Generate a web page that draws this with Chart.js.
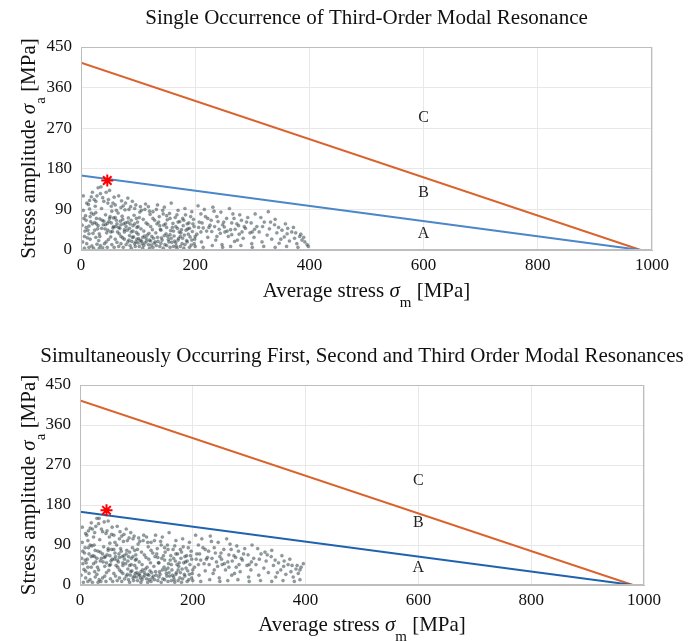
<!DOCTYPE html>
<html>
<head>
<meta charset="utf-8">
<script src="https://cdn.jsdelivr.net/npm/chart.js@4.4.1/dist/chart.umd.min.js"></script>
<style>
  html, body { margin: 0; padding: 0; background: #fff; }
  .box { position: absolute; left: 0; width: 697px; }
  #top { top: 0; height: 310px; }
  #bottom { top: 320px; height: 321px; }
</style>
</head>
<body>
<div class="box" id="top"><canvas id="chartTop"></canvas></div>
<div class="box" id="bottom"><canvas id="chartBottom"></canvas></div>
<script>
// Axis ticks
const xTicks = [0, 200, 400, 600, 800, 1000];
const yTicks = [0, 90, 180, 270, 360, 450];

// Limit lines (average stress, stress amplitude)
const lowerLineX = [0, 980];
const lowerLineY = [165, 0];
const upperLineX = [0, 980];
const upperLineY = [415, 0];

// Red star points
const starTop = [46, 154];
const starBottom = [47, 168];

// Region labels [x, y, text]
const regionTop = [[600, 36, "A"], [600, 127, "B"], [600, 293, "C"]];
const regionBottom = [[600, 38, "A"], [600, 140, "B"], [600, 234, "C"]];

// Scatter cloud, single occurrence
const cloudTop = [
  [3,18],[7,42],[9,66],[4,88],[11,27],[14,53],[16,74],[13,101],[19,9],[21,37],[24,61],[26,83],[23,112],[29,47],[31,21],
  [33,69],[36,92],[34,125],[39,56],[41,14],[43,78],[45,38],[47,104],[49,63],[52,29],[54,86],[56,49],[58,117],[57,71],[2,55],
  [6,30],[12,44],[17,63],[22,79],[27,58],[32,36],[37,66],[42,47],[46,59],[51,74],[55,41],[8,76],[15,91],[25,97],[35,140],
  [44,128],[53,97],[28,13],[38,5],[48,23],
  [61,52],[63,17],[65,82],[67,36],[69,64],[71,109],[73,27],[75,58],[77,89],[79,12],[81,44],[83,71],[85,32],[87,96],[89,19],
  [91,54],[93,77],[95,8],[97,39],[99,62],[101,25],[103,84],[105,47],[107,14],[109,68],[111,31],[113,102],[115,20],[117,57],[119,37],
  [121,79],[123,11],[125,45],[127,26],[129,66],[62,66],[68,48],[72,75],[78,60],[84,22],[88,40],[92,29],[96,18],[100,35],[104,21],
  [108,28],[112,16],[116,33],[120,22],[124,30],[128,15],[66,120],[74,98],[82,115],[94,92],[106,88],[118,96],[126,85],[64,40],[70,30],
  [76,45],[86,58],[98,50],[110,42],[122,52],
  [131,38],[133,58],[135,19],[137,74],[139,46],[141,27],[143,88],[145,55],[147,12],[149,36],[151,67],[153,23],[155,81],[157,43],[159,17],
  [161,59],[163,31],[165,72],[167,9],[169,48],[171,26],[173,63],[175,38],[177,14],[179,54],[181,33],[183,78],[185,21],[187,47],[189,60],
  [191,29],[193,11],[195,41],[197,68],[199,24],[134,100],[146,95],[158,104],[170,88],[182,92],[194,85],[140,15],[152,30],[164,20],[176,45],
  [188,35],[136,62],[150,50],[162,42],[174,30],[186,58],[198,52],
  [203,35],[207,62],[211,18],[214,49],[218,74],[222,28],[226,55],[229,41],[233,86],[236,22],[240,63],[244,37],[247,12],[251,51],[255,70],
  [258,30],[262,45],[266,80],[269,19],[273,58],[277,35],[281,66],[284,26],[288,48],[292,72],[296,38],[299,14],[205,98],[216,90],[231,95],
  [245,84],[260,92],[278,78],[210,40],[224,50],[238,30],[252,40],[264,60],[274,22],[286,52],[298,60],
  [303,28],[308,52],[312,40],[317,18],[321,62],[326,33],[330,47],[334,24],[339,56],[343,38],[347,15],[352,44],[356,29],[361,36],[365,20],
  [369,40],[374,26],[378,14],[383,30],[387,22],[392,18],[396,12],[305,80],[315,72],[328,85],[340,68],[358,58],[372,50],[385,35],
  [5,70],[9,50],[14,36],[18,82],[20,58],[24,44],[27,70],[30,54],[33,30],[36,48],[40,64],[43,56],[47,44],[50,70],[53,60],
  [57,52],[60,72],[63,58],[66,50],[70,56],[73,68],[76,40],[79,52],[82,62],[85,48],[88,66],[91,42],[94,58],[97,70],[100,52],
  [82,18],[86,10],[90,28],[94,14],[98,24],[102,8],[106,20],[110,10],[114,26],[118,12],[122,20],[126,6],[130,18],[134,28],[138,8],
  [142,22],[146,32],[150,10],[154,18],[158,26],[162,8],[166,16],[170,22],[174,8],[178,26],[182,12],[186,18],[190,6],[194,22],[198,14],
  [10,14],[16,24],[26,28],[34,10],[44,18],[54,12],[60,24],[70,14],[76,24],[52,40],
  [140,44],[148,58],[156,34],[166,52],[172,40],[180,66],[190,48],[200,30],[206,50],[212,60],[220,42],[228,66],[234,52],[242,46],[250,62],
  [256,42],[264,34],[270,46],[276,54],[282,40],[15,110],[28,120],[40,108],[20,128],[60,100],[90,108],[50,132],[30,138],
  [4,120],[10,104],[18,118],[26,108],[38,116],[48,112],[56,104],[62,88],[70,94],[78,104],[84,90],[96,100],[104,96],[112,90],[120,86],
  [132,90],[144,80],[156,70],[168,78],[178,70],[192,74],[102,72],[114,60],[126,70],[138,54],[150,76],[160,50],[170,62],[184,44],[196,58],
  [6,4],[14,6],[22,4],[32,4],[46,6],[58,6],[66,8],[74,6],[88,4],[100,16],[108,4],[120,4],[132,10],[144,4],[156,6],
  [168,4],[180,4],[200,8],[214,6],[230,10],[248,6],[262,8],[280,10],[300,6],[320,8],[340,6],[360,8],[380,6],[398,8],
  [210,80],[222,70],[238,74],[248,56],[268,70],[290,62],[304,46],[318,52],[332,62],[346,50],[362,48],[376,38],[390,28],[350,24],[300,40]
];

// Scatter cloud, simultaneous resonances
const cloudBottom = [
  [2,22],[5,48],[8,72],[4,96],[10,31],[13,58],[15,84],[12,112],[18,12],[20,40],[23,66],[25,90],[22,126],[28,52],[30,24],
  [32,76],[35,102],[33,138],[38,60],[40,16],[42,86],[44,42],[46,116],[48,68],[51,33],[53,94],[55,54],[57,130],[56,80],[3,60],
  [7,35],[11,50],[16,70],[21,88],[26,64],[31,40],[36,74],[41,52],[45,64],[50,82],[54,46],[9,84],[14,100],[24,108],[34,150],
  [43,142],[52,108],[27,18],[37,8],[47,28],
  [61,58],[63,20],[65,90],[67,40],[69,70],[71,120],[73,30],[75,64],[77,98],[79,14],[81,48],[83,78],[85,36],[87,106],[89,22],
  [91,60],[93,84],[95,10],[97,44],[99,68],[101,28],[103,92],[105,52],[107,16],[109,74],[111,34],[113,112],[115,22],[117,62],[119,40],
  [121,86],[123,12],[125,50],[127,28],[129,72],[62,72],[68,52],[72,82],[78,66],[84,24],[88,44],[92,32],[96,20],[100,38],[104,24],
  [108,30],[112,18],[116,36],[120,24],[124,32],[128,16],[66,132],[74,110],[82,126],[94,104],[106,98],[118,108],[126,96],[64,44],[70,34],
  [76,50],[86,64],[98,56],[110,46],[122,58],
  [131,42],[133,64],[135,22],[137,82],[139,50],[141,30],[143,98],[145,60],[147,14],[149,40],[151,74],[153,26],[155,90],[157,48],[159,20],
  [161,66],[163,34],[165,80],[167,12],[169,54],[171,28],[173,70],[175,42],[177,16],[179,60],[181,36],[183,86],[185,24],[187,52],[189,66],
  [191,32],[193,12],[195,46],[197,76],[199,26],[134,112],[146,108],[158,118],[170,100],[182,104],[194,96],[140,18],[152,34],[164,22],[176,50],
  [188,38],[136,70],[150,56],[162,46],[174,34],[186,64],[198,58],
  [203,40],[207,70],[211,22],[214,56],[218,84],[222,32],[226,62],[229,46],[233,98],[236,26],[240,72],[244,42],[247,16],[251,58],[255,80],
  [258,34],[262,52],[266,92],[269,22],[273,66],[277,40],[281,76],[284,30],[288,56],[292,82],[296,44],[299,18],[205,112],[216,104],[231,110],
  [245,96],[260,104],[278,88],[210,46],[224,58],[238,34],[252,46],[264,68],[274,26],[286,60],[298,68],
  [303,34],[308,60],[312,46],[317,22],[321,70],[326,38],[330,54],[334,28],[339,64],[343,44],[347,18],[352,50],[356,34],[361,42],[365,24],
  [369,46],[374,30],[378,18],[383,36],[387,26],[392,40],[396,48],[305,90],[315,82],[328,74],[340,78],[358,66],[372,58],[385,44],
  [5,76],[9,56],[14,40],[18,90],[20,64],[24,48],[27,78],[30,60],[33,34],[36,54],[40,70],[43,62],[47,50],[50,78],[53,66],
  [57,58],[60,80],[63,64],[66,56],[70,62],[73,76],[76,44],[79,58],[82,70],[85,54],[88,74],[91,46],[94,64],[97,78],[100,58],
  [82,20],[86,12],[90,30],[94,16],[98,26],[102,10],[106,22],[110,12],[114,28],[118,14],[122,22],[126,8],[130,20],[134,30],[138,10],
  [142,24],[146,34],[150,12],[154,20],[158,28],[162,10],[166,18],[170,24],[174,10],[178,28],[182,14],[186,20],[190,8],[194,24],[198,16],
  [10,16],[16,26],[26,30],[34,12],[44,20],[54,14],[60,26],[70,16],[76,26],[52,44],
  [140,50],[148,66],[156,38],[166,60],[172,46],[180,74],[190,54],[200,34],[206,58],[212,70],[220,48],[228,76],[234,60],[242,52],[250,72],
  [256,48],[264,40],[270,54],[276,62],[282,46],[15,122],[28,132],[40,120],[20,140],[60,112],[90,118],[50,144],[30,150],
  [4,130],[10,116],[18,128],[26,118],[38,126],[48,122],[56,114],[62,96],[70,104],[78,114],[84,100],[96,110],[104,106],[112,100],[120,96],
  [132,100],[144,90],[156,80],[168,88],[178,80],[192,84],[102,80],[114,68],[126,78],[138,62],[150,84],[160,56],[170,70],[184,50],[196,66],
  [6,6],[14,8],[22,6],[32,6],[46,8],[58,8],[66,10],[74,8],[88,6],[100,18],[108,6],[120,6],[132,12],[144,6],[156,8],
  [168,6],[180,6],[200,10],[214,8],[230,12],[248,8],[262,10],[280,12],[300,8],[320,10],[340,8],[360,10],[380,8],[390,12],
  [210,90],[222,80],[238,84],[248,64],[268,80],[290,70],[304,52],[318,58],[332,68],[346,56],[362,54],[376,44],[390,34],[350,28],[300,46]
];

const serif = "'Liberation Serif', 'Times New Roman', serif";

function toPoints(xs, ys) {
  return xs.map((x, i) => ({ x: x, y: ys[i] }));
}

// titles, axis labels with subscripts, box and region letters
const decorPlugin = {
  id: 'decor',
  afterDraw(chart, args, opts) {
    const c = chart.ctx;
    const a = chart.chartArea;
    const xs = chart.scales.x, ys = chart.scales.y;
    c.save();
    // box
    c.strokeStyle = '#bdbdbd';
    c.lineWidth = 1;
    c.strokeRect(a.left + 0.5, a.top + 0.5, a.right - a.left - 1, a.bottom - a.top - 1);

    c.fillStyle = '#111';
    c.textBaseline = 'alphabetic';
    // title
    c.font = '21px ' + serif;
    c.textAlign = 'center';
    c.fillText(opts.title, (a.left + a.right) / 2, opts.titleY);

    // region letters
    c.font = '16px ' + serif;
    c.fillStyle = '#222';
    c.textBaseline = 'middle';
    opts.regions.forEach(r => {
      c.fillText(r[2], xs.getPixelForValue(r[0]), ys.getPixelForValue(r[1]));
    });

    // x axis title
    c.fillStyle = '#111';
    c.textBaseline = 'alphabetic';
    const parts = [
      { t: 'Average stress ', f: '21px ' + serif, dy: 0 },
      { t: 'σ', f: 'italic 21px ' + serif, dy: 0 },
      { t: 'm', f: '15px ' + serif, dy: 10 },
      { t: ' [MPa]', f: '21px ' + serif, dy: 0 }
    ];
    drawParts(c, parts, (a.left + a.right) / 2, a.bottom + opts.xTitleOffset);

    // y axis title, rotated
    const yParts = [
      { t: 'Stress amplitude ', f: '21px ' + serif, dy: 0 },
      { t: 'σ', f: 'italic 21px ' + serif, dy: 0 },
      { t: 'a', f: '15px ' + serif, dy: 10 },
      { t: ' [MPa]', f: '21px ' + serif, dy: 0 }
    ];
    c.translate(opts.yTitleX, (a.top + a.bottom) / 2);
    c.rotate(-Math.PI / 2);
    drawParts(c, yParts, 0, 0);
    c.restore();
  }
};

function drawParts(c, parts, cx, baseY) {
  let w = 0;
  parts.forEach(p => { c.font = p.f; p.w = c.measureText(p.t).width; w += p.w; });
  let x = cx - w / 2;
  c.textAlign = 'left';
  parts.forEach(p => {
    c.font = p.f;
    c.fillText(p.t, x, baseY + p.dy);
    x += p.w;
  });
}

function makeChart(id, cloud, star, regions, blue, title, geo) {
  new Chart(document.getElementById(id), {
    type: 'scatter',
    data: {
      datasets: [
        {
          data: cloud.map(p => ({ x: p[0], y: p[1] })),
          pointRadius: 1.6,
          pointBackgroundColor: 'rgba(38,58,64,0.5)',
          pointBorderColor: 'rgba(38,58,64,0.35)',
          pointBorderWidth: 0.5,
          order: 3
        },
        {
          type: 'line',
          data: toPoints(lowerLineX, lowerLineY),
          borderColor: blue,
          borderWidth: 2,
          pointRadius: 0,
          order: 2
        },
        {
          type: 'line',
          data: toPoints(upperLineX, upperLineY),
          borderColor: '#d9622d',
          borderWidth: 2,
          pointRadius: 0,
          order: 2
        },
        {
          data: [{ x: star[0], y: star[1] }],
          pointStyle: 'star',
          pointRadius: 6,
          borderColor: '#ff0000',
          borderWidth: 2,
          order: 1
        }
      ]
    },
    options: {
      responsive: true,
      maintainAspectRatio: false,
      animation: false,
      layout: { padding: { top: geo.top, right: geo.right, left: 0, bottom: 0 } },
      plugins: {
        legend: { display: false },
        tooltip: { enabled: false },
        decor: {
          title: title, titleY: geo.titleY, regions: regions,
          xTitleOffset: geo.xTitleOffset, yTitleX: geo.yTitleX
        }
      },
      scales: {
        x: {
          type: 'linear', min: 0, max: 1000,
          afterBuildTicks: s => { s.ticks = xTicks.map(v => ({ value: v })); },
          afterFit: s => { s.height = geo.xAxisH; },
          ticks: { font: { family: serif, size: 17 }, color: '#111', padding: 5, maxRotation: 0,
                   callback: v => String(v) },
          grid: { color: '#e8e8e8', drawTicks: false },
          border: { color: '#bdbdbd' }
        },
        y: {
          type: 'linear', min: 0, max: 450,
          afterBuildTicks: s => { s.ticks = yTicks.map(v => ({ value: v })); },
          afterFit: s => { s.width = geo.left; },
          ticks: { font: { family: serif, size: 17 }, color: '#111', padding: 9,
                   callback: v => String(v) },
          grid: { color: '#e8e8e8', drawTicks: false },
          border: { color: '#bdbdbd' }
        }
      }
    },
    plugins: [decorPlugin]
  });
}

makeChart('chartTop', cloudTop, starTop, regionTop, '#4a86c8',
  'Single Occurrence of Third-Order Modal Resonance',
  { top: 47, right: 45, left: 81, xAxisH: 60, titleY: 24, xTitleOffset: 47, yTitleX: 35 });

makeChart('chartBottom', cloudBottom, starBottom, regionBottom, '#1f62ae',
  'Simultaneously Occurring First, Second and Third Order Modal Resonances',
  { top: 65, right: 53, left: 80, xAxisH: 56, titleY: 42, xTitleOffset: 46, yTitleX: 35 });
</script>
</body>
</html>
